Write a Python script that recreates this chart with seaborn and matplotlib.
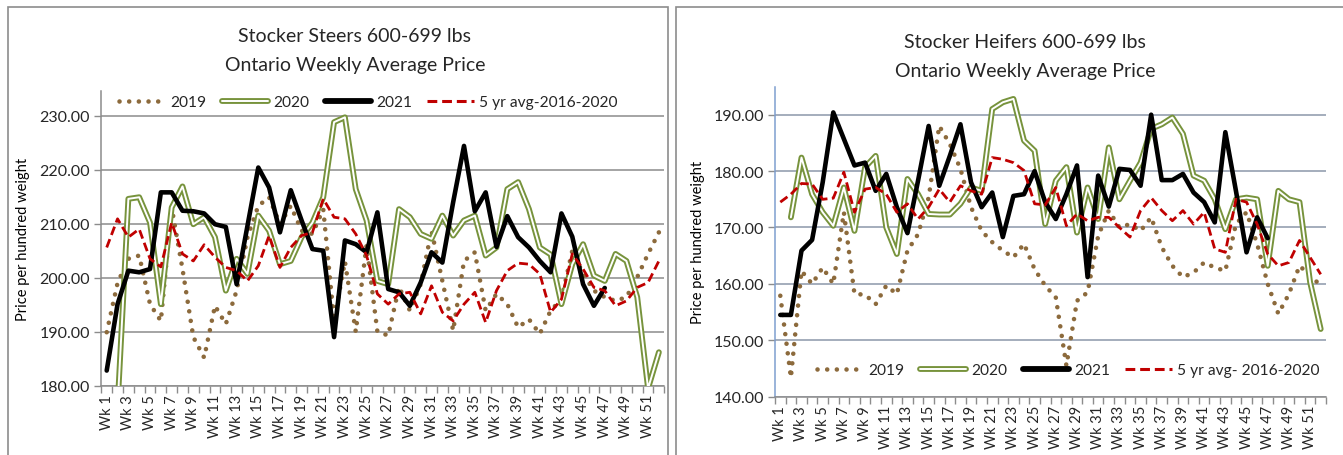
import numpy as np
import pandas as pd
import matplotlib
matplotlib.use("Agg")
import matplotlib.pyplot as plt
import matplotlib.patches as mpatches
from matplotlib.lines import Line2D
from matplotlib.legend_handler import HandlerTuple
import seaborn as sns

nan = np.nan

weeks = [f"Wk {i}" for i in range(1, 53)]

# Stocker steers 600-699 lbs
steers_2019 = [189.9, 199.0, 203.5, 204.1, 195.1, 192.0, 213.0, 201.6, 189.0, 185.2,
               194.8, 191.4, 197.6, 207.5, 213.3, 214.9, 209.9, 213.3, 208.7, 208.1,
               212.7, 192.0, 203.0, 190.0, 206.0, 190.0, 189.3, 198.3, 193.9, 198.8,
               208.7, 199.4, 190.2, 203.1, 204.7, 193.9, 197.0, 195.1, 190.8, 192.3,
               189.6, 193.9, 196.0, 205.0, 200.7, 197.6, 196.4, 195.7, 196.4, 200.1,
               204.4, 208.4]
steers_2020 = [nan, 176.0, 214.6, 214.9, 210.2, 195.1, 213.0, 216.9, 209.9, 211.2,
               207.5, 197.6, 203.5, 200.7, 211.5, 208.7, 202.5, 203.1, 207.5, 210.2,
               214.9, 228.8, 229.7, 216.4, 210.6, 199.4, 198.8, 212.7, 211.2, 208.1,
               207.2, 211.5, 207.8, 210.6, 211.5, 204.1, 205.6, 216.4, 217.7, 212.7,
               205.6, 204.3, 195.1, 202.5, 206.2, 200.4, 199.4, 204.4, 203.1, 196.4,
               179.5, 186.2]
steers_2021 = [182.8, 195.1, 201.3, 201.0, 201.6, 215.8, 215.8, 212.4, 212.3, 211.9,
               209.9, 209.4, 198.8, 209.6, 220.4, 216.7, 208.4, 216.2, 210.6, 205.3,
               205.0, 189.0, 206.9, 206.2, 204.7, 212.1, 197.9, 197.3, 194.8, 199.1,
               204.7, 202.8, 214.0, 224.4, 212.3, 215.8, 205.7, 211.4, 207.5, 205.6,
               203.1, 201.0, 211.9, 207.6, 198.8, 194.8, 198.1, nan, nan, nan,
               nan, nan]
steers_avg = [205.6, 210.9, 207.5, 209.0, 203.5, 202.0, 210.2, 204.4, 203.1, 206.1,
              203.8, 201.9, 201.3, 199.4, 202.2, 207.8, 201.9, 205.6, 207.8, 208.4,
              214.6, 211.2, 210.9, 208.1, 204.1, 197.0, 195.1, 197.0, 197.3, 193.3,
              198.5, 193.6, 192.0, 195.1, 197.3, 191.7, 197.6, 201.3, 202.7, 202.5,
              200.7, 193.6, 196.0, 204.4, 201.6, 198.2, 197.6, 194.8, 195.7, 198.2,
              199.1, 203.1]

# Stocker heifers 600-699 lbs
heifers_2019 = [157.9, 143.4, 162.3, 160.0, 162.9, 160.0, 172.7, 158.2, 158.1, 156.4,
                159.7, 158.2, 165.9, 168.8, 175.3, 188.0, 184.8, 180.4, 173.6, 169.4,
                167.4, 165.9, 164.7, 167.1, 162.6, 159.7, 157.6, 145.5, 157.0, 158.5,
                168.5, 173.0, 170.0, 170.6, 169.4, 171.8, 166.5, 163.2, 161.2, 162.0,
                163.8, 162.9, 162.3, 170.6, 172.7, 167.1, 160.0, 154.7, 158.2, 163.2,
                161.5, 159.7]
heifers_2020 = [nan, 171.8, 182.4, 175.9, 172.7, 170.3, 177.1, 169.4, 180.7, 182.7,
                170.0, 165.3, 178.6, 175.9, 172.4, 172.3, 172.3, 174.2, 177.1, 176.5,
                191.0, 192.2, 192.8, 185.4, 183.6, 170.6, 178.3, 180.7, 169.1, 177.1,
                171.5, 184.2, 175.0, 178.3, 181.5, 187.5, 188.3, 189.5, 186.6, 179.2,
                178.3, 175.0, 169.7, 175.0, 175.3, 175.0, 163.2, 176.5, 175.0, 174.5,
                160.3, 152.0]
heifers_2021 = [154.5, 154.5, 165.9, 167.8, 178.0, 190.4, 185.7, 181.0, 181.5, 176.5,
                179.5, 173.6, 169.0, 178.3, 188.0, 177.4, 182.7, 188.3, 178.0, 173.6,
                176.2, 168.3, 175.6, 175.9, 180.0, 174.5, 171.5, 175.9, 181.0, 161.2,
                179.2, 173.7, 180.4, 180.2, 177.4, 190.0, 178.4, 178.4, 179.5, 176.2,
                174.5, 170.9, 186.9, 176.5, 165.6, 171.8, 168.1, nan, nan, nan,
                nan, nan]
heifers_avg = [174.5, 175.9, 177.8, 177.7, 175.0, 175.2, 179.8, 172.7, 176.8, 177.1,
               175.9, 172.7, 174.2, 171.5, 173.6, 176.8, 174.5, 177.4, 176.5, 175.9,
               182.4, 182.1, 181.5, 180.1, 174.2, 174.0, 177.1, 170.3, 172.4, 171.2,
               171.8, 171.8, 170.0, 168.3, 173.0, 175.3, 173.0, 171.2, 173.0, 170.6,
               172.7, 166.2, 165.6, 175.0, 174.5, 170.6, 165.3, 163.2, 163.8, 167.7,
               164.7, 161.7]

BROWN = "#8c6a3c"
GREEN = "#77933c"
RED = "#c00000"
DOTS = (0, (0.01, 2.1))
DASH = (0, (3.2, 1.6))

W, H = 1343, 456

sns.set_theme(style="white")
plt.rcParams["font.family"] = ["Lato", "DejaVu Sans"]


def draw_panel(ax, s19, s20, s21, avg, ylim, grid_color, yaxis_color):
    df = pd.DataFrame({"x": np.arange(52), "s19": s19, "s20": s20,
                       "s21": s21, "avg": avg})
    sns.lineplot(data=df, x="x", y="s19", ax=ax, color=BROWN, lw=3.3,
                 linestyle=DOTS, dash_capstyle="round", legend=False, zorder=3)
    sns.lineplot(data=df, x="x", y="s20", ax=ax, color=GREEN, lw=4.2,
                 legend=False, zorder=4)
    sns.lineplot(data=df, x="x", y="s20", ax=ax, color="white", lw=1.4,
                 legend=False, zorder=4)
    sns.lineplot(data=df, x="x", y="s21", ax=ax, color="black", lw=3.3,
                 legend=False, zorder=5)
    sns.lineplot(data=df, x="x", y="avg", ax=ax, color=RED, lw=2.0,
                 linestyle=DASH, legend=False, zorder=6)

    ax.set_xlim(-0.5, 51.5)
    ax.set_ylim(*ylim)
    # y-axis
    lo = int(ylim[0])
    ax.set_yticks(np.arange(lo, lo + 51, 10))
    ax.set_yticklabels([f"{v:.2f}" for v in np.arange(lo, lo + 51, 10)], fontsize=11.5)
    ax.yaxis.grid(True, color=grid_color, lw=1.1)
    ax.set_axisbelow(True)
    ax.set_ylabel("Price per hundred weight", fontsize=10.5, color="black")
    ax.yaxis.set_label_coords(-0.127, 0.5)
    # x-axis
    ax.set_xticks(np.arange(0, 52, 2))
    ax.set_xticklabels(weeks[::2], rotation=90, fontsize=10.5)
    ax.set_xticks(np.arange(-0.5, 52, 1), minor=True)
    ax.tick_params(axis="x", which="major", length=0, pad=6)
    ax.tick_params(axis="x", which="minor", length=5, width=1, color="#8c8c8c",
                   direction="out", bottom=True)
    ax.tick_params(axis="y", which="major", length=5, width=1, color="#8c8c8c",
                   direction="out", left=True, pad=3)
    ax.set_xlabel("")
    # remainder
    for loc in ["top", "right"]:
        ax.spines[loc].set_visible(False)
    ax.spines["bottom"].set_color("#8c8c8c")
    ax.spines["left"].set_color(yaxis_color)
    for sp in ["bottom", "left"]:
        ax.spines[sp].set_linewidth(1.1)


def legend_handles():
    h19 = Line2D([], [], color=BROWN, lw=3.3, linestyle=DOTS, dash_capstyle="round")
    h20 = (Line2D([], [], color=GREEN, lw=4.2), Line2D([], [], color="white", lw=1.4))
    h21 = Line2D([], [], color="black", lw=4.2)
    havg = Line2D([], [], color=RED, lw=2.2, linestyle=DASH)
    return [h19, h20, h21, havg]


fig = plt.figure(figsize=(W / 100, H / 100), dpi=100)
fig.patch.set_facecolor("white")

ax1 = fig.add_axes([101.3 / W, 1 - 386.7 / H, 563 / W, (386.7 - 92) / H])
draw_panel(ax1, steers_2019, steers_2020, steers_2021, steers_avg,
           (180, 234.57), "#8c8c8c", "#8c8c8c")

ax2 = fig.add_axes([775 / W, 1 - 397.7 / H, 551 / W, (397.7 - 88) / H])
draw_panel(ax2, heifers_2019, heifers_2020, heifers_2021, heifers_avg,
           (140, 194.91), "#8c97aa", "#7f9fcf")

# legends
legend_kw = dict(handler_map={tuple: HandlerTuple(ndivide=1)}, loc="center", ncol=4,
                 frameon=False, fontsize=11.2, handlelength=3.0, columnspacing=1.0,
                 handletextpad=0.3, borderpad=0.2)
fig.legend(legend_handles(), ["2019", "2020", "2021", "5 yr avg-2016-2020"],
           bbox_to_anchor=(368 / W, 1 - 103 / H), **legend_kw)
fig.legend(legend_handles(), ["2019", "2020", "2021", "5 yr avg- 2016-2020"],
           bbox_to_anchor=(1068 / W, 1 - 371 / H), **legend_kw)

# titles
fig.text(355 / W, 1 - 37 / H, "Stocker Steers 600-699 lbs", ha="center",
         va="center", fontsize=14)
fig.text(355 / W, 1 - 66 / H, "Ontario Weekly Average Price", ha="center",
         va="center", fontsize=14)
fig.text(1025 / W, 1 - 42 / H, "Stocker Heifers 600-699 lbs", ha="center",
         va="center", fontsize=14)
fig.text(1025 / W, 1 - 71 / H, "Ontario Weekly Average Price", ha="center",
         va="center", fontsize=14)

# chart area borders
for x0, x1 in [(8, 668), (676, 1350)]:
    fig.patches.append(mpatches.Rectangle((x0 / W, -0.05), (x1 - x0) / W,
                                          1.05 - 8 / H, transform=fig.transFigure,
                                          fill=False, ec="#8c8c8c", lw=1.2))

fig.savefig("out.png", dpi=100, facecolor="white")
